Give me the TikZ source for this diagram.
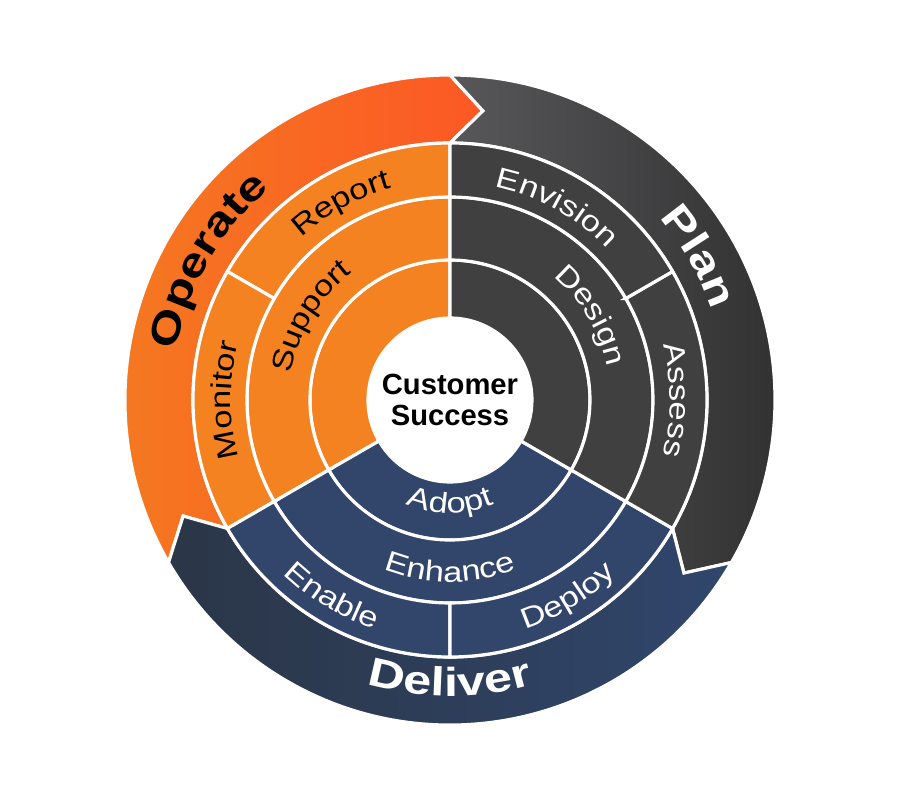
\documentclass[tikz,border=0pt]{standalone}
\usepackage{fontspec}
\setmainfont{Liberation Sans}
\newfontfamily\ringfont[FakeStretch=1.2]{Liberation Sans}
\newfontfamily\bandfont[FakeStretch=1.25]{Liberation Sans}
\usetikzlibrary{decorations.text}

\definecolor{opOrange}{RGB}{245,130,32}
\definecolor{opLeft}{RGB}{244,124,32}
\definecolor{opRight}{RGB}{252,88,37}
\definecolor{plGray}{RGB}{64,64,65}
\definecolor{plLeft}{RGB}{88,88,90}
\definecolor{plRight}{RGB}{50,50,51}
\definecolor{dlBlue}{RGB}{50,69,106}
\definecolor{dlLeft}{RGB}{43,54,71}
\definecolor{dlRight}{RGB}{48,70,108}

\begin{document}
\begin{tikzpicture}[
  seg/.style={draw=white, line width=0.9pt},
  lbldark/.style={decorate, decoration={text along path, text align=center, text color=black,
    text={|\ringfont\fontsize{8.2pt}{9pt}\selectfont|#1}}},
  lbllight/.style={decorate, decoration={text along path, text align=center, text color=white,
    text={|\ringfont\fontsize{8.2pt}{9pt}\selectfont|#1}}},
  banddark/.style={decorate, decoration={text along path, text align=center, text color=black,
    text={|\bandfont\bfseries\fontsize{11.5pt}{13pt}\selectfont|#1}}},
  bandlight/.style={decorate, decoration={text along path, text align=center, text color=white,
    text={|\bandfont\bfseries\fontsize{11.5pt}{13pt}\selectfont|#1}}}
]
\useasboundingbox (-4.5,-4) rectangle (4.5,4);

%Outer bands
\draw[seg, left color=opLeft, right color=opRight] (210:3.25) arc[start angle=210, end angle=90, radius=3.25] -- (83.5:2.91) -- (90:2.57) arc[start angle=90, end angle=210, radius=2.57] -- (203.5:2.91) -- cycle;
\draw[seg, left color=plLeft, right color=plRight] (90:3.25) arc[start angle=90, end angle=-30, radius=3.25] -- (-36.5:2.91) -- (-30:2.57) arc[start angle=-30, end angle=90, radius=2.57] -- (83.5:2.91) -- cycle;
\draw[seg, left color=dlLeft, right color=dlRight] (330:3.25) arc[start angle=330, end angle=210, radius=3.25] -- (203.5:2.91) -- (210:2.57) arc[start angle=210, end angle=330, radius=2.57] -- (323.5:2.91) -- cycle;

%Inner rings
\foreach \a/\c in {90/opOrange, 210/dlBlue, -30/plGray}{
  \draw[seg, fill=\c] (\a:0.82) -- (\a:1.40) arc[start angle=\a, end angle=\a+120, radius=1.40] -- ({\a+120}:0.82) arc[start angle=\a+120, end angle=\a, radius=0.82] -- cycle;
  \draw[seg, fill=\c] (\a:1.40) -- (\a:2.03) arc[start angle=\a, end angle=\a+120, radius=2.03] -- ({\a+120}:1.40) arc[start angle=\a+120, end angle=\a, radius=1.40] -- cycle;
  \draw[seg, fill=\c] (\a:2.03) -- (\a:2.57) arc[start angle=\a, end angle=\a+60, radius=2.57] -- ({\a+60}:2.03) arc[start angle=\a+60, end angle=\a, radius=2.03] -- cycle;
  \draw[seg, fill=\c] ({\a+60}:2.03) -- ({\a+60}:2.57) arc[start angle=\a+60, end angle=\a+120, radius=2.57] -- ({\a+120}:2.03) arc[start angle=\a+120, end angle=\a+60, radius=2.03] -- cycle;
}

%Center
\fill[white] (0,0) circle (0.82);
\node (cs) at (0,0) [align=center, font=\bfseries\fontsize{8.3pt}{8.6pt}\selectfont] {Customer\\Success};

%Labels, clockwise
\path[banddark={Operate}] (200:2.78) arc[start angle=200, end angle=100, radius=2.78];
\path[bandlight={Plan}] (80:2.77) arc[start angle=80, end angle=-20, radius=2.77];
\path[lbldark={Report}] (169:2.20) arc[start angle=169, end angle=69, radius=2.20];
\path[lbllight={Envision}] (111:2.18) arc[start angle=111, end angle=11, radius=2.18];
\path[lbldark={Monitor}] (230:2.19) arc[start angle=230, end angle=130, radius=2.19];
\path[lbllight={Assess}] (50:2.20) arc[start angle=50, end angle=-50, radius=2.20];
\path[lbldark={Support}] (199:1.61) arc[start angle=199, end angle=99, radius=1.61];
\path[lbllight={Design}] (81:1.61) arc[start angle=81, end angle=-19, radius=1.61];

%Labels, counterclockwise
\path[bandlight={Deliver}] (220:2.96) arc[start angle=220, end angle=320, radius=2.96];
\path[lbllight={Enable}] (189:2.41) arc[start angle=189, end angle=289, radius=2.41];
\path[lbllight={Deploy}] (251:2.41) arc[start angle=251, end angle=351, radius=2.41];
\path[lbllight={Enhance}] (220:1.82) arc[start angle=220, end angle=320, radius=1.82];
\path[lbllight={Adopt}] (220:1.13) arc[start angle=220, end angle=320, radius=1.13];

\end{tikzpicture}
\end{document}
